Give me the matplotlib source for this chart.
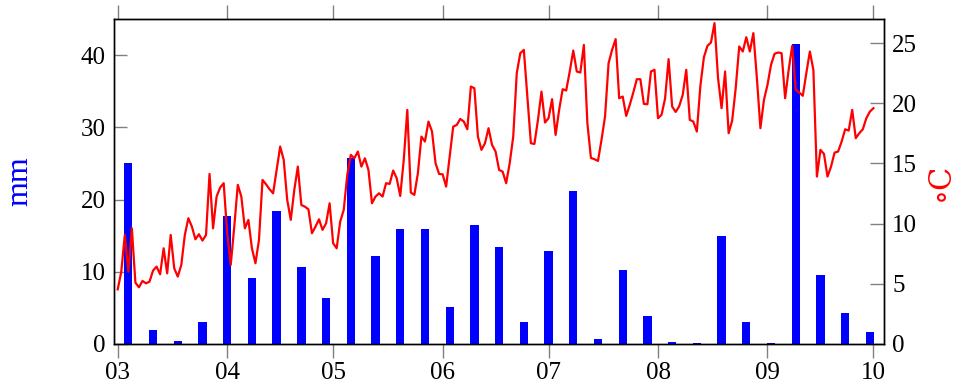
import numpy as np
import pandas as pd
import matplotlib
matplotlib.use('Agg')
import matplotlib.pyplot as plt

# daily temperature (deg C), 1 March .. 1 October
temp = [4.54, 6.01, 9.06, 6.01, 9.61, 5.10, 4.71, 5.24, 5.04, 5.18,
        6.10, 6.43, 5.79, 7.95, 5.87, 9.06, 6.29, 5.60, 6.57, 9.06,
        10.45, 9.75, 8.70, 9.12, 8.59, 9.06, 14.13, 9.61, 12.25, 13.00,
        13.36, 9.20, 6.57, 9.75, 13.22, 12.25, 9.61, 10.31, 7.95, 6.71,
        8.65, 13.63, 13.27, 12.86, 12.52, 14.46, 16.40, 15.30, 11.97, 10.31,
        12.80, 14.74, 11.55, 11.41, 11.19, 9.20, 9.75, 10.36, 9.48, 10.03,
        11.69, 8.37, 7.95, 10.17, 11.14, 14.05, 15.71, 15.43, 15.99, 14.74,
        15.43, 14.46, 11.69, 12.25, 12.52, 12.25, 13.36, 13.30, 14.41, 13.77,
        12.30, 15.30, 19.45, 12.58, 12.39, 14.19, 17.23, 16.82, 18.48, 17.65,
        15.02, 14.13, 14.10, 13.08, 15.57, 18.06, 18.20, 18.70, 18.48, 17.84,
        21.39, 21.25, 17.23, 16.13, 16.68, 17.93, 16.54, 15.99, 14.46, 14.32,
        13.36, 15.02, 17.23, 22.50, 24.16, 24.44, 20.56, 16.68, 16.62, 18.62,
        20.97, 18.40, 18.76, 20.34, 17.37, 19.45, 21.17, 21.06, 22.64, 24.38,
        22.64, 22.55, 24.85, 18.34, 15.46, 15.35, 15.21, 16.96, 18.90, 23.33,
        24.44, 25.33, 20.42, 20.56, 18.95, 19.87, 20.89, 22.00, 22.00, 19.95,
        19.92, 22.64, 22.78, 18.76, 19.04, 20.40, 23.67, 19.73, 19.28, 19.75,
        20.70, 22.78, 18.62, 18.48, 17.65, 21.45, 23.83, 24.77, 25.05, 26.66,
        22.09, 19.59, 22.64, 17.51, 18.56, 21.25, 24.72, 24.30, 25.49, 24.30,
        25.83, 22.09, 17.93, 20.28, 21.53, 23.19, 24.11, 24.22, 24.16, 20.42,
        22.78, 24.77, 21.11, 20.89, 20.62, 22.50, 24.30, 22.78, 13.91, 16.13,
        15.79, 13.91, 14.74, 15.90, 15.99, 16.82, 17.84, 17.73, 19.45, 17.10,
        17.51, 17.84, 18.76, 19.31, 19.59]

# weekly precipitation (mm)
rain = [25.0, 1.9, 0.45, 3.1, 17.7, 9.2, 18.4, 10.6, 6.4, 25.8,
        12.2, 15.9, 15.9, 5.1, 16.5, 13.5, 3.1, 12.9, 21.2, 0.65,
        10.2, 3.9, 0.27, 0.1, 14.9, 3.1, 0.1, 41.6, 9.6, 4.3, 1.66]

start = pd.Timestamp('2019-03-01')
days = pd.date_range(start, periods=len(temp), freq='D')
weeks = pd.date_range(start + pd.Timedelta(days=3), periods=len(rain), freq='7D')
month_ticks = pd.date_range('2019-03-01', '2019-10-01', freq='MS')
month_labels = ['03', '04', '05', '06', '07', '08', '09', '10']

plt.rcParams['font.family'] = ['Liberation Serif', 'DejaVu Serif']
plt.rcParams['font.size'] = 18

fig = plt.figure(figsize=(9.59, 3.85), dpi=100)
ax1 = fig.add_axes([0.1189, 0.1065, 0.9218 - 0.1189, 0.9506 - 0.1065])

ax1.bar(weeks, rain, width=2.35, color='#0000ff', zorder=2)
ax1.set_ylim(0, 45)
ax1.set_yticks([0, 10, 20, 30, 40])
ax1.set_ylabel('mm', color='#0000ff', fontsize=23)
ax1.yaxis.set_label_coords(-0.104, 0.5)

ax1.set_xlim(start - pd.Timedelta(days=1.05), start + pd.Timedelta(days=217))
ax1.set_xticks(month_ticks)
ax1.set_xticklabels(month_labels)

ax2 = ax1.twinx()
ax2.plot(days, temp, color='#ff0000', linewidth=1.6)
ax2.set_ylim(0, 27)
ax2.set_yticks([0, 5, 10, 15, 20, 25])
ax2.set_ylabel('\u2218C', color='#ff0000', rotation=90, fontsize=22,
               family=['DejaVu Serif'])
ax2.yaxis.set_label_coords(1.053, 0.5)

grey = '#808080'
ax1.tick_params(axis='x', which='major', top=True, bottom=True, direction='out',
                length=10, width=1, color=grey, pad=3)
ax1.tick_params(axis='y', direction='in', length=9, width=1, color=grey, pad=6)
ax2.tick_params(axis='y', direction='in', length=10, width=1, color=grey, pad=6)

for a in (ax1, ax2):
    for s in a.spines.values():
        s.set_linewidth(1)
        s.set_color('black')

fig.savefig('out.png', dpi=100)
